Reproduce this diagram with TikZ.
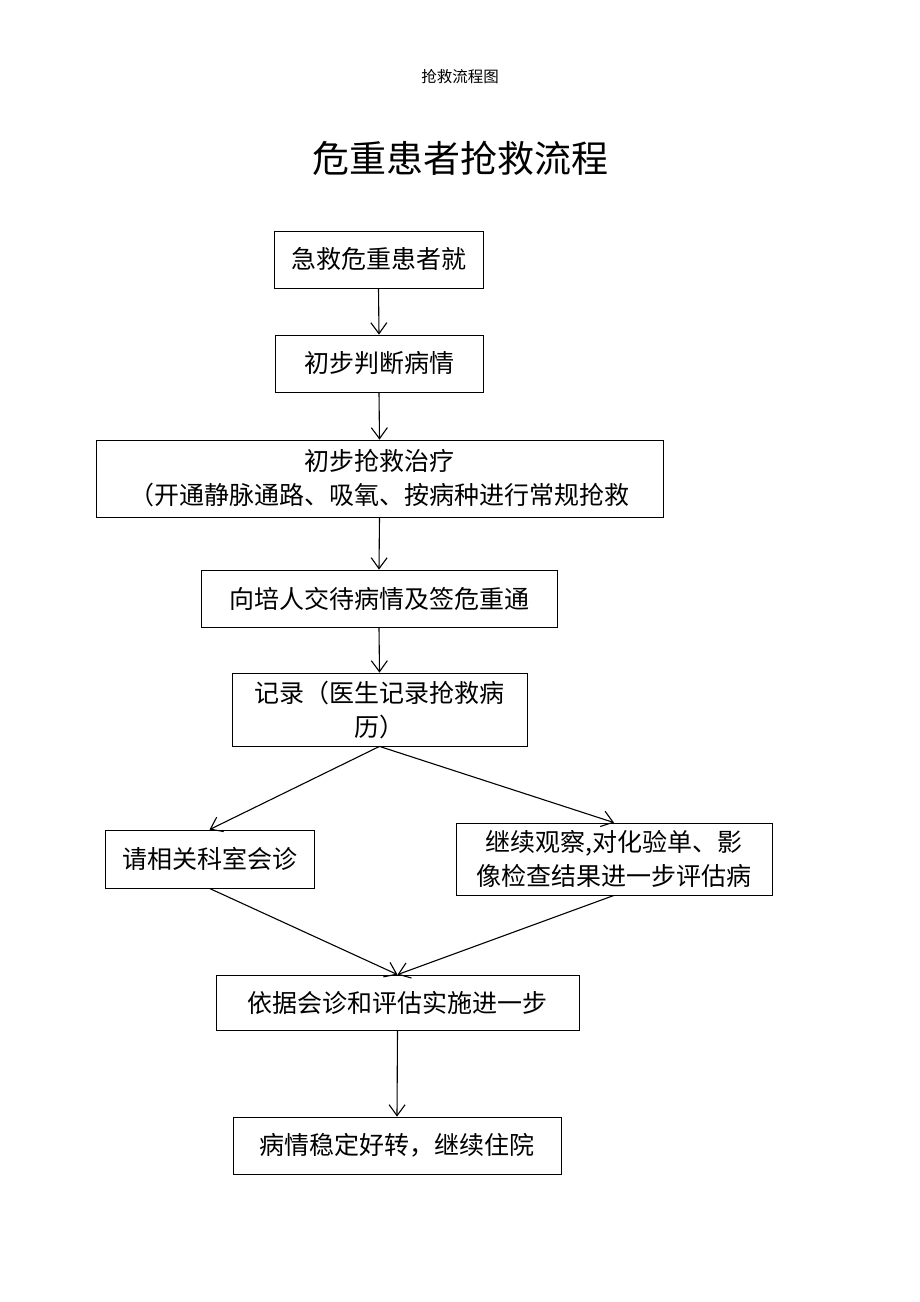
\documentclass[tikz,border=0pt]{standalone}
\usepackage{fontspec}
\setmainfont{Noto Sans CJK SC}
\usetikzlibrary{arrows.meta}
\tikzset{
  box/.style={draw=black, line width=0.8pt, inner sep=0pt, align=center, font=\fontsize{25}{34}\selectfont},
  arr/.style={-{Straight Barb[length=11pt,width=16pt]}, line width=1.1pt}
}
\begin{document}
\begin{tikzpicture}[x=1pt,y=-1pt]
\useasboundingbox[fill=white] (0,0) rectangle (920,1302);
\node[font=\fontsize{15.5}{18}\selectfont] (hdr) at (460,77) {抢救流程图};
\node[font=\fontsize{37}{42}\selectfont] (title) at (460,158) {危重患者抢救流程};

\node[box, minimum width=209pt, minimum height=57pt] (b1) at (378.5,259.5) {急救危重患者就};
\node[box, minimum width=208pt, minimum height=57pt] (b2) at (379,363.5) {初步判断病情};
\node[box, minimum width=567pt, minimum height=77pt] (b3) at (379.5,478.5) {初步抢救治疗\\（开通静脉通路、吸氧、按病种进行常规抢救};
\node[box, minimum width=356pt, minimum height=57pt] (b4) at (379,598.5) {向培人交待病情及签危重通};
\node[box, minimum width=295pt, minimum height=73pt] (b5) at (379.5,709.5) {记录（医生记录抢救病\\历）};
\node[box, minimum width=209pt, minimum height=58pt] (b6) at (209.5,859) {请相关科室会诊};
\node[box, minimum width=316pt, minimum height=72pt] (b7) at (614,859) {继续观察,对化验单、影\\像检查结果进一步评估病};
\node[box, minimum width=363pt, minimum height=55pt] (b8) at (397.5,1002.5) {依据会诊和评估实施进一步};
\node[box, minimum width=328pt, minimum height=57pt] (b9) at (397,1145.5) {病情稳定好转，继续住院};

\draw[arr] (b1.south) -- (b2.north);
\draw[arr] (b2.south) -- (b3.north);
\draw[arr] (b3.south) -- (b4.north);
\draw[arr] (b4.south) -- (b5.north);
\draw[arr] (b5.south) -- (b6.north);
\draw[arr] (b5.south) -- (b7.north);
\draw[arr] (b6.south) -- (b8.north);
\draw[arr] (b7.south) -- (b8.north);
\draw[arr] (b8.south) -- (b9.north);
\end{tikzpicture}
\end{document}
